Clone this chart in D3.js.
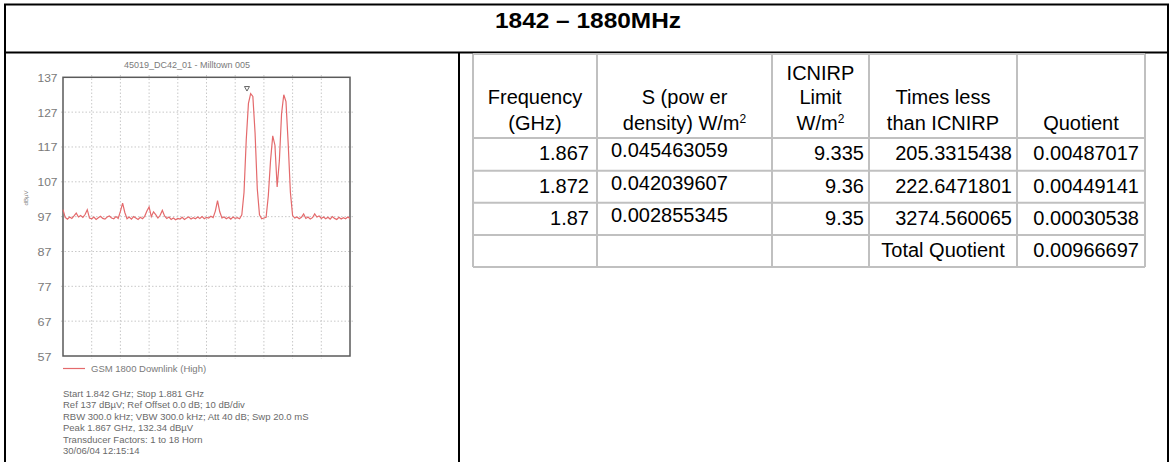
<!DOCTYPE html>
<html><head><meta charset="utf-8">
<script src="https://cdn.jsdelivr.net/npm/d3@7"></script>
<style>body{margin:0;background:#fff} svg{display:block}</style>
</head><body><svg id="c" width="1171" height="462"></svg>
<script>
// ---------- data ----------
const pageTitle = "1842 \u2013 1880MHz";
const plotTitle = "45019_DC42_01 - Milltown 005";
const yTickValues = [57, 67, 77, 87, 97, 107, 117, 127, 137];
const xGridMHz = [1845.9, 1849.8, 1853.7, 1857.6, 1861.5, 1865.4, 1869.3, 1873.2, 1877.1];
const sweepMHz = [1842.0, 1881.0];
const traceMHz = [
 1842.0,1842.3,1842.6,1842.9,1843.2,1843.5,1843.8,1844.1,1844.4,1844.7,
 1845.0,1845.3,1845.6,1845.9,1846.2,1846.5,1846.8,1847.1,1847.4,1847.7,
 1848.0,1848.3,1848.6,1848.9,1849.2,1849.5,1849.8,1850.1,1850.4,1850.7,
 1851.0,1851.3,1851.6,1851.9,1852.2,1852.5,1852.8,1853.1,1853.4,1853.7,
 1854.0,1854.3,1854.6,1854.9,1855.2,1855.5,1855.8,1856.1,1856.4,1856.7,
 1857.0,1857.3,1857.6,1857.9,1858.2,1858.5,1858.8,1859.1,1859.4,1859.7,
 1860.0,1860.3,1860.6,1860.9,1861.2,1861.5,1861.8,1862.1,1862.4,1862.7,
 1863.0,1863.3,1863.6,1863.9,1864.2,1864.5,1864.8,1865.1,1865.4,1865.7,
 1866.0,1866.3,1866.6,1866.9,1867.2,1867.5,1867.8,1868.1,1868.4,1868.7,
 1869.0,1869.3,1869.6,1869.9,1870.2,1870.5,1870.8,1871.1,1871.4,1871.7,
 1872.0,1872.3,1872.6,1872.9,1873.2,1873.5,1873.8,1874.1,1874.4,1874.7,
 1875.0,1875.3,1875.6,1875.9,1876.2,1876.5,1876.8,1877.1,1877.4,1877.7,
 1878.0,1878.3,1878.6,1878.9,1879.2,1879.5,1879.8,1880.1,1880.4,1880.7,
 1881.0];
const traceDBuV = [
 99.0,96.8,96.3,96.9,96.5,97.2,98.0,96.9,97.3,96.8,
 97.6,99.0,96.6,96.4,96.9,96.2,96.7,97.1,96.5,96.3,
 96.9,97.2,96.6,96.4,97.0,96.5,98.5,100.9,98.2,96.4,
 96.9,96.3,97.0,96.6,96.2,96.8,96.4,97.1,98.6,99.8,
 97.0,98.4,97.6,96.6,97.4,98.8,97.2,96.5,96.9,96.2,
 96.6,96.1,96.5,96.3,96.8,96.2,96.6,96.9,96.3,96.7,
 96.4,96.9,96.5,97.0,96.4,96.8,96.6,97.1,96.7,98.6,
 101.6,98.4,96.6,96.9,96.4,96.8,96.3,96.9,96.5,96.7,
 96.4,97.5,104.0,119.0,129.5,132.3,131.5,121.0,105.0,97.5,
 96.4,96.6,96.8,103.0,113.0,120.2,117.5,105.5,113.0,126.5,
 132.0,130.0,118.0,104.0,97.3,96.6,96.9,96.4,96.8,97.8,
 96.5,96.9,96.3,96.7,97.8,96.9,97.2,96.5,96.9,96.4,
 96.8,96.3,97.0,96.5,96.2,96.8,96.3,96.7,96.4,96.9,
 96.5];
const peakMarker = {mhz: 1867.0, level: 132.34};
const yAxisLabel = "dB\u00b5V";
const legendLabel = "GSM 1800 Downlink (High)";
const infoLines = [
 "Start 1.842 GHz; Stop 1.881 GHz",
 "Ref 137 dB\u00b5V; Ref Offset 0.0 dB; 10 dB/div",
 "RBW 300.0 kHz; VBW 300.0 kHz; Att 40 dB; Swp 20.0 mS",
 "Peak 1.867 GHz, 132.34 dB\u00b5V",
 "Transducer Factors: 1 to 18 Horn",
 "30/06/04 12:15:14"];

// table
const headerCol1 = ["", "Frequency", "(GHz)"];
const headerCol2 = ["", "S (pow er", "density) W/m|2"];
const headerCol3 = ["ICNIRP", "Limit", "W/m|2"];
const headerCol4 = ["", "Times less", "than ICNIRP"];
const headerCol5 = ["", "", "Quotient"];
const freqGHz = ["1.867", "1.872", "1.87"];
const powerDensity = ["0.045463059", "0.042039607", "0.002855345"];
const icnirpLimit = ["9.335", "9.36", "9.35"];
const timesLess = ["205.3315438", "222.6471801", "3274.560065"];
const quotient = ["0.00487017", "0.00449141", "0.00030538"];
const totalLabel = "Total Quotient";
const totalQuotient = "0.00966697";

// ---------- drawing ----------
const svg = d3.select("#c");
const FONT = "'Liberation Sans', Arial, sans-serif";

// outer frame
const frame = svg.append("g").attr("stroke", "#000").attr("stroke-width", 2);
frame.append("line").attr("x1", 4).attr("x2", 1169).attr("y1", 4.5).attr("y2", 4.5);
frame.append("line").attr("x1", 4).attr("x2", 1169).attr("y1", 52.5).attr("y2", 52.5);
frame.append("line").attr("x1", 5).attr("x2", 5).attr("y1", 4).attr("y2", 462);
frame.append("line").attr("x1", 1168).attr("x2", 1168).attr("y1", 4).attr("y2", 462);
frame.append("line").attr("x1", 459).attr("x2", 459).attr("y1", 52).attr("y2", 462);

svg.append("text").attr("x", 588).attr("y", 27.5).attr("text-anchor", "middle")
  .attr("font-family", FONT).attr("font-weight", "bold").attr("font-size", 22)
  .attr("textLength", 186).attr("lengthAdjust", "spacingAndGlyphs")
  .text(pageTitle);

// ---------- spectrum plot ----------
const x = d3.scaleLinear().domain(sweepMHz).range([63, 350]);
const y = d3.scaleLinear().domain([57, 137]).range([356, 77.3]);
const plot = svg.append("g");
const grey = "#7a7a7a";

// grid
plot.append("g").selectAll("line").data(yTickValues.slice(1, -1)).join("line")
  .attr("x1", 61).attr("x2", 354).attr("y1", d => y(d)).attr("y2", d => y(d))
  .attr("stroke", "#c8c8c8").attr("stroke-dasharray", "1.5,2");
plot.append("g").selectAll("line").data(xGridMHz).join("line")
  .attr("x1", d => x(d)).attr("x2", d => x(d)).attr("y1", 75).attr("y2", 359)
  .attr("stroke", "#c8c8c8").attr("stroke-dasharray", "1.5,2");

// y tick labels
plot.append("g").selectAll("text").data(yTickValues).join("text")
  .attr("x", 37.5).attr("y", d => y(d) + 4.5)
  .attr("font-family", FONT).attr("font-size", 10).attr("fill", grey)
  .attr("textLength", d => String(d).length === 3 ? 20 : 14)
  .attr("lengthAdjust", "spacingAndGlyphs")
  .text(d => d);

// frame
plot.append("rect").attr("x", 63).attr("y", 77.3).attr("width", 287).attr("height", 278.7)
  .attr("fill", "none").attr("stroke", "#5a5a5a").attr("stroke-width", 1.5);

// trace
const pts = traceMHz.map((f, i) => [f, traceDBuV[i]]);
plot.append("path").datum(pts)
  .attr("d", d3.line().x(d => x(d[0])).y(d => y(d[1])))
  .attr("fill", "none").attr("stroke", "#e46a6c").attr("stroke-width", 1.2);

// peak marker
const mx = x(peakMarker.mhz), my = y(peakMarker.level);
plot.append("path")
  .attr("d", `M${mx - 2.5},${my - 7} L${mx + 2.5},${my - 7} L${mx},${my - 2.5} Z`)
  .attr("fill", "none").attr("stroke", "#555").attr("stroke-width", 0.9);

// titles
plot.append("text").attr("x", 187).attr("y", 68).attr("text-anchor", "middle")
  .attr("font-family", FONT).attr("font-size", 9).attr("fill", grey).text(plotTitle);
plot.append("text").attr("transform", "translate(28,198) rotate(-90)")
  .attr("text-anchor", "middle").attr("font-family", FONT).attr("font-size", 6)
  .attr("fill", grey).text(yAxisLabel);

// legend
plot.append("line").attr("x1", 63).attr("x2", 85).attr("y1", 368.5).attr("y2", 368.5)
  .attr("stroke", "#e46a6c").attr("stroke-width", 1.2);
plot.append("text").attr("x", 91).attr("y", 372).attr("font-family", FONT)
  .attr("font-size", 9.5).attr("fill", grey).text(legendLabel);

// info
plot.append("g").selectAll("text").data(infoLines).join("text")
  .attr("x", 63).attr("y", (d, i) => 396.5 + i * 11.5)
  .attr("font-family", FONT).attr("font-size", 9.5).attr("fill", "#6a6a6a")
  .text(d => d);

// ---------- table ----------
const colX = [473, 597, 772, 869, 1017, 1145];
const rowY = [54, 138, 170.7, 202.7, 235, 267];
const tbl = svg.append("g");
const tb = tbl.append("g").attr("stroke", "#c0c0c0").attr("stroke-width", 2);
tb.selectAll(".h").data(rowY).join("line")
  .attr("x1", colX[0]).attr("x2", colX[5]).attr("y1", d => d).attr("y2", d => d);
tb.selectAll(".v").data(colX).join("line")
  .attr("x1", d => d).attr("x2", d => d).attr("y1", rowY[0]).attr("y2", rowY[5]);

const tfont = 20;
function addText(g, str, xx, yy, anchor) {
  const t = g.append("text").attr("x", xx).attr("y", yy).attr("text-anchor", anchor)
    .attr("font-family", FONT).attr("font-size", tfont).attr("fill", "#000");
  const parts = str.split("|");
  t.append("tspan").text(parts[0]);
  if (parts.length > 1) {
    t.append("tspan").attr("font-size", 12).attr("dy", -7).text(parts[1]);
  }
  return t;
}
const headers = [headerCol1, headerCol2, headerCol3, headerCol4, headerCol5];
const headerBase = [80, 104, 130];
headers.forEach((col, c) => {
  const cx = (colX[c] + colX[c + 1]) / 2;
  col.forEach((s, r) => { if (s) addText(tbl, s, cx, headerBase[r], "middle"); });
});
const rowBase = [160, 192.5, 224.5];
freqGHz.forEach((s, r) => addText(tbl, s, colX[1] - 8, rowBase[r], "end"));
powerDensity.forEach((s, r) => addText(tbl, s, colX[1] + 14, rowBase[r] - 3, "start"));
icnirpLimit.forEach((s, r) => addText(tbl, s, colX[3] - 5, rowBase[r], "end"));
timesLess.forEach((s, r) => addText(tbl, s, colX[4] - 5, rowBase[r], "end"));
quotient.forEach((s, r) => addText(tbl, s, colX[5] - 6, rowBase[r], "end"));
addText(tbl, totalLabel, (colX[3] + colX[4]) / 2, 256.5, "middle");
addText(tbl, totalQuotient, colX[5] - 6, 256.5, "end");
</script></body></html>
